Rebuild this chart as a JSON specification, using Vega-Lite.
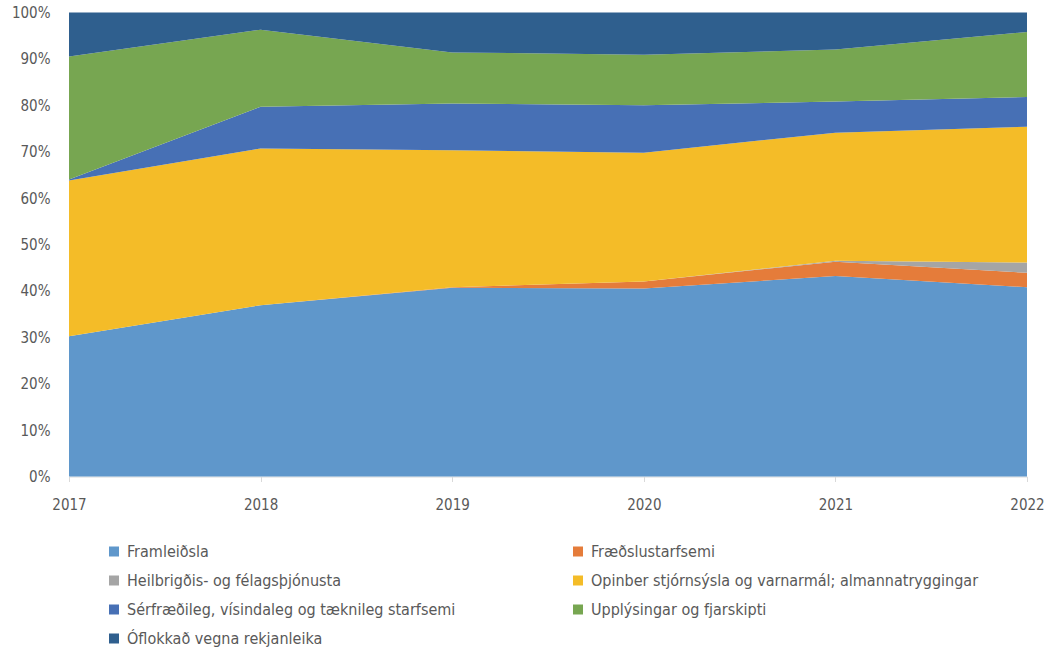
{
  "$schema": "https://vega.github.io/schema/vega-lite/v6.json",
  "autosize": {"type": "none"},
  "padding": {"left": 69, "top": 12.5, "right": 20, "bottom": 173.5},
  "width": 958,
  "height": 464,
  "background": "white",
  "config": {"view": {"stroke": null}, "font": "DejaVu Sans Condensed, Liberation Sans, sans-serif"},
  "data": {"values": [
    {"year": 2017, "cat": "Framleiðsla", "v": 30.2},
    {"year": 2017, "cat": "Fræðslustarfsemi", "v": 0},
    {"year": 2017, "cat": "Heilbrigðis- og félagsþjónusta", "v": 0},
    {"year": 2017, "cat": "Opinber stjórnsýsla og varnarmál; almannatryggingar", "v": 33.6},
    {"year": 2017, "cat": "Sérfræðileg, vísindaleg og tæknileg starfsemi", "v": 0.2},
    {"year": 2017, "cat": "Upplýsingar og fjarskipti", "v": 26.5},
    {"year": 2017, "cat": "Óflokkað vegna rekjanleika", "v": 9.5},
    {"year": 2018, "cat": "Framleiðsla", "v": 36.9},
    {"year": 2018, "cat": "Fræðslustarfsemi", "v": 0},
    {"year": 2018, "cat": "Heilbrigðis- og félagsþjónusta", "v": 0},
    {"year": 2018, "cat": "Opinber stjórnsýsla og varnarmál; almannatryggingar", "v": 33.8},
    {"year": 2018, "cat": "Sérfræðileg, vísindaleg og tæknileg starfsemi", "v": 9.0},
    {"year": 2018, "cat": "Upplýsingar og fjarskipti", "v": 16.6},
    {"year": 2018, "cat": "Óflokkað vegna rekjanleika", "v": 3.7},
    {"year": 2019, "cat": "Framleiðsla", "v": 40.7},
    {"year": 2019, "cat": "Fræðslustarfsemi", "v": 0.1},
    {"year": 2019, "cat": "Heilbrigðis- og félagsþjónusta", "v": 0},
    {"year": 2019, "cat": "Opinber stjórnsýsla og varnarmál; almannatryggingar", "v": 29.5},
    {"year": 2019, "cat": "Sérfræðileg, vísindaleg og tæknileg starfsemi", "v": 10.1},
    {"year": 2019, "cat": "Upplýsingar og fjarskipti", "v": 11.0},
    {"year": 2019, "cat": "Óflokkað vegna rekjanleika", "v": 8.6},
    {"year": 2020, "cat": "Framleiðsla", "v": 40.5},
    {"year": 2020, "cat": "Fræðslustarfsemi", "v": 1.5},
    {"year": 2020, "cat": "Heilbrigðis- og félagsþjónusta", "v": 0},
    {"year": 2020, "cat": "Opinber stjórnsýsla og varnarmál; almannatryggingar", "v": 27.8},
    {"year": 2020, "cat": "Sérfræðileg, vísindaleg og tæknileg starfsemi", "v": 10.2},
    {"year": 2020, "cat": "Upplýsingar og fjarskipti", "v": 10.9},
    {"year": 2020, "cat": "Óflokkað vegna rekjanleika", "v": 9.1},
    {"year": 2021, "cat": "Framleiðsla", "v": 43.2},
    {"year": 2021, "cat": "Fræðslustarfsemi", "v": 3.1},
    {"year": 2021, "cat": "Heilbrigðis- og félagsþjónusta", "v": 0.2},
    {"year": 2021, "cat": "Opinber stjórnsýsla og varnarmál; almannatryggingar", "v": 27.6},
    {"year": 2021, "cat": "Sérfræðileg, vísindaleg og tæknileg starfsemi", "v": 6.7},
    {"year": 2021, "cat": "Upplýsingar og fjarskipti", "v": 11.2},
    {"year": 2021, "cat": "Óflokkað vegna rekjanleika", "v": 8.0},
    {"year": 2022, "cat": "Framleiðsla", "v": 40.8},
    {"year": 2022, "cat": "Fræðslustarfsemi", "v": 3.1},
    {"year": 2022, "cat": "Heilbrigðis- og félagsþjónusta", "v": 2.2},
    {"year": 2022, "cat": "Opinber stjórnsýsla og varnarmál; almannatryggingar", "v": 29.3},
    {"year": 2022, "cat": "Sérfræðileg, vísindaleg og tæknileg starfsemi", "v": 6.4},
    {"year": 2022, "cat": "Upplýsingar og fjarskipti", "v": 14.0},
    {"year": 2022, "cat": "Óflokkað vegna rekjanleika", "v": 4.2}
  ]},
  "mark": {"type": "area", "interpolate": "linear"},
  "encoding": {
    "x": {
      "field": "year", "type": "quantitative",
      "scale": {"domain": [2017, 2022], "nice": false, "zero": false},
      "axis": {
        "title": null, "values": [2017, 2018, 2019, 2020, 2021, 2022], "format": "d",
        "grid": false, "domainColor": "#d9d9d9", "tickColor": "#d9d9d9", "tickSize": 5,
        "labelPadding": 16, "labelFontSize": 15, "labelColor": "#595959", "labelFlush": false
      }
    },
    "y": {
      "field": "v", "type": "quantitative", "stack": "normalize",
      "scale": {"domain": [0, 1]},
      "axis": {
        "title": null, "values": [0, 0.1, 0.2, 0.3, 0.4, 0.5, 0.6, 0.7, 0.8, 0.9, 1], "format": ".0%",
        "grid": false, "domain": false, "ticks": false, "labelPadding": 19,
        "labelFontSize": 15, "labelColor": "#595959"
      }
    },
    "order": {"field": "cat", "sort": "ascending"},
    "color": {
      "field": "cat", "type": "nominal",
      "scale": {
        "domain": ["Framleiðsla", "Heilbrigðis- og félagsþjónusta", "Sérfræðileg, vísindaleg og tæknileg starfsemi", "Óflokkað vegna rekjanleika", "Fræðslustarfsemi", "Opinber stjórnsýsla og varnarmál; almannatryggingar", "Upplýsingar og fjarskipti"],
        "range": ["#5F97CB", "#A5A5A5", "#4770B5", "#2F5F8E", "#E57C3A", "#F4BC28", "#77A651"]
      },
      "legend": {
        "title": null, "orient": "none", "legendX": 37, "legendY": 531,
        "columns": 2, "columnPadding": 114, "rowPadding": 13,
        "symbolType": "square", "symbolSize": 100, "symbolStrokeWidth": 0,
        "labelFontSize": 16, "labelColor": "#595959", "labelLimit": 500, "labelOffset": 5
      }
    }
  }
}
